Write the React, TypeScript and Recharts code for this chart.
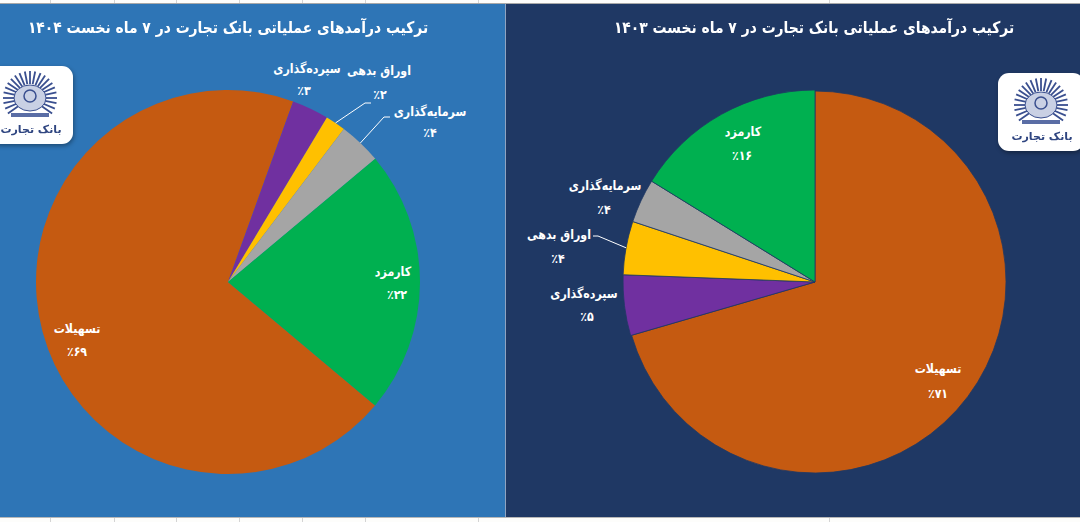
import { PieChart, Pie, Cell, Sector } from "recharts"

const names = ["تسهیلات", "سپرده‌گذاری", "اوراق بدهی", "سرمایه‌گذاری", "کارمزد"]
const colors = ["#C55A11", "#7030A0", "#FFC000", "#A5A5A5", "#00B050"]

const values1404 = [69.4, 3.1, 1.7, 3.6, 22.2]
const values1403 = [70.5, 5.1, 4.5, 3.7, 16.2]
const percent1404 = ["۶۹", "۳", "۲", "۴", "۲۲"]
const percent1403 = ["۷۱", "۵", "۴", "۴", "۱۶"]

const title1404 = "ترکیب درآمدهای عملیاتی بانک تجارت در ۷ ماه نخست ۱۴۰۴"
const title1403 = "ترکیب درآمدهای عملیاتی بانک تجارت در ۷ ماه نخست ۱۴۰۳"

const gridTicks = [50, 114, 176, 239, 302, 365, 478, 829]
const fanAngles = [-125, -113, -101, -90, -78, -67, -56, -45, -34, -23, -11, 0, 11, 23, 34, 45, 56, 67, 78, 90, 101, 113, 125]

const FONT = "'DejaVu Sans', sans-serif"

// label placement relative to the pie centre: [nameX, nameY, percentX, percentY]
const spots1404 = [
  [-151, 47, -151, 70],
  [79, -213, 76, -191],
  [151, -211, 152, -187],
  [202, -170, 202, -149],
  [165, -10, 169, 13],
]
const spots1403 = [
  [123, 87, 123, 112],
  [-231, 12, -228, 35],
  [-256, -47, -257, -23],
  [-210, -96, -211, -72],
  [-72, -150, -73, -126],
]
// leader line ends: [elbowX, elbowY, endX, endY], null where there is no line
const leaders1404 = [null, null, [137, -179, 143, -179], [156, -165, 162, -165], null]
const leaders1403 = [null, null, [-217, -46, -222, -46], null, null]

function makeLabel(spots: number[][], percents: string[], leaders: (number[] | null)[]) {
  return (props: any) => {
    const { cx, cy, midAngle, outerRadius, index } = props
    const s = spots[index]
    const l = leaders[index]
    const rad = (-midAngle * Math.PI) / 180
    const px = cx + outerRadius * Math.cos(rad)
    const py = cy + outerRadius * Math.sin(rad)
    return (
      <g key={index} fontFamily={FONT} fontWeight="bold" fill="#fff" fontSize={13} textAnchor="middle">
        {l && (
          <polyline
            points={`${px},${py} ${cx + l[0]},${cy + l[1]} ${cx + l[2]},${cy + l[3]}`}
            fill="none"
            stroke="#fff"
            strokeWidth={1}
          />
        )}
        <text transform={`translate(${cx + s[0]},${cy + s[1]}) scale(0.85,1)`} dominantBaseline="middle" direction="rtl">
          {names[index]}
        </text>
        <text transform={`translate(${cx + s[2]},${cy + s[3]}) scale(0.85,1)`} dominantBaseline="middle" direction="rtl">
          {"٪" + percents[index]}
        </text>
      </g>
    )
  }
}

function Logo({ left, top, width }: { left: number; top: number; width: number }) {
  return (
    <svg
      width={width}
      height={78}
      style={{
        position: "absolute",
        left,
        top,
        filter: "drop-shadow(1px 2px 2px rgba(0,0,0,0.35))",
        overflow: "visible",
      }}
    >
      <rect x={0} y={0} width={width} height={78} rx={11} fill="#fff" />
      <g transform={`translate(${width - 43},${32})`} stroke="#3A4F8F" strokeWidth={1.8}>
        {fanAngles.map((a) => (
          <line
            key={a}
            x1={14 * Math.sin((a * Math.PI) / 180)}
            y1={-14 * Math.cos((a * Math.PI) / 180)}
            x2={27 * Math.sin((a * Math.PI) / 180)}
            y2={-27 * Math.cos((a * Math.PI) / 180)}
          />
        ))}
        <ellipse cx={0} cy={0} rx={16} ry={13} fill="#C9D0E4" strokeWidth={1} />
        <circle cx={0} cy={-2} r={6} fill="none" strokeWidth={1.5} />
        <rect x={-19} y={15} width={38} height={4} fill="#5A6DA5" stroke="none" />
      </g>
      <text
        x={width - 42}
        y={67}
        textAnchor="middle"
        direction="rtl"
        fontFamily={FONT}
        fontWeight="bold"
        fontSize={11}
        fill="#2F4580"
      >
        بانک تجارت
      </text>
    </svg>
  )
}

function Panel({
  left,
  width,
  bg,
  title,
  titleRight,
  values,
  label,
  cx,
  start,
  stroke,
  firstInset,
}: {
  left: number
  width: number
  bg: string
  title: string
  titleRight: number
  values: number[]
  label: (p: any) => any
  cx: number
  start: number
  stroke: string
  firstInset: number
}) {
  const rows = names.map((name, i) => ({ name, value: values[i] }))
  return (
    <div style={{ position: "absolute", left, top: 4, width, height: 513, background: bg, overflow: "hidden" }}>
      <div
        style={{
          position: "absolute",
          right: titleRight,
          top: 14,
          color: "#fff",
          fontFamily: FONT,
          fontWeight: "bold",
          fontSize: 16,
          direction: "rtl",
          whiteSpace: "nowrap",
          transform: "scaleX(0.868)",
          transformOrigin: "right center",
        }}
      >
        {title}
      </div>
      <PieChart
        width={width}
        height={513}
        margin={{ top: 0, right: 0, bottom: 0, left: 0 }}
        style={{ position: "absolute", left: 0, top: 0 }}
      >
        <Pie
          data={rows}
          dataKey="value"
          nameKey="name"
          cx={cx}
          cy={278}
          outerRadius={192}
          startAngle={start}
          endAngle={start - 360}
          stroke={stroke}
          strokeWidth={stroke === "none" ? 0 : 0.8}
          label={label}
          labelLine={false}
          isAnimationActive={false}
          shape={(p: any) => (
            <Sector {...p} outerRadius={p.name === names[0] ? p.outerRadius - firstInset : p.outerRadius} />
          )}
        >
          {rows.map((r, i) => (
            <Cell key={r.name} fill={colors[i]} />
          ))}
        </Pie>
      </PieChart>
    </div>
  )
}

export default function App() {
  return (
    <div style={{ position: "absolute", left: 0, top: 0, width: 1080, height: 522, background: "#FDFDFB", overflow: "hidden" }}>
      {gridTicks.map((x) => (
        <div key={x} style={{ position: "absolute", left: x, top: 0, width: 1, height: 522, background: "#D4D4D4" }} />
      ))}
      <div style={{ position: "absolute", left: 0, top: 3, width: 1080, height: 1, background: "#A8A8A8" }} />
      <div style={{ position: "absolute", left: 0, top: 517, width: 1080, height: 1, background: "#B8B8B8" }} />
      <Panel
        left={0}
        width={505}
        bg="#2E75B6"
        title={title1404}
        titleRight={77}
        values={values1404}
        label={makeLabel(spots1404, percent1404, leaders1404)}
        cx={228}
        start={-40}
        stroke="none"
        firstInset={0}
      />
      <Panel
        left={505}
        width={575}
        bg="#1F3864"
        title={title1403}
        titleRight={66}
        values={values1403}
        label={makeLabel(spots1403, percent1403, leaders1403)}
        cx={310}
        start={90}
        stroke="#1F3864"
        firstInset={1}
      />
      <div style={{ position: "absolute", left: 505, top: 4, width: 1, height: 513, background: "#8FA3C0" }} />
      <Logo left={-11} top={66} width={84} />
      <Logo left={998} top={73} width={86} />
    </div>
  )
}
